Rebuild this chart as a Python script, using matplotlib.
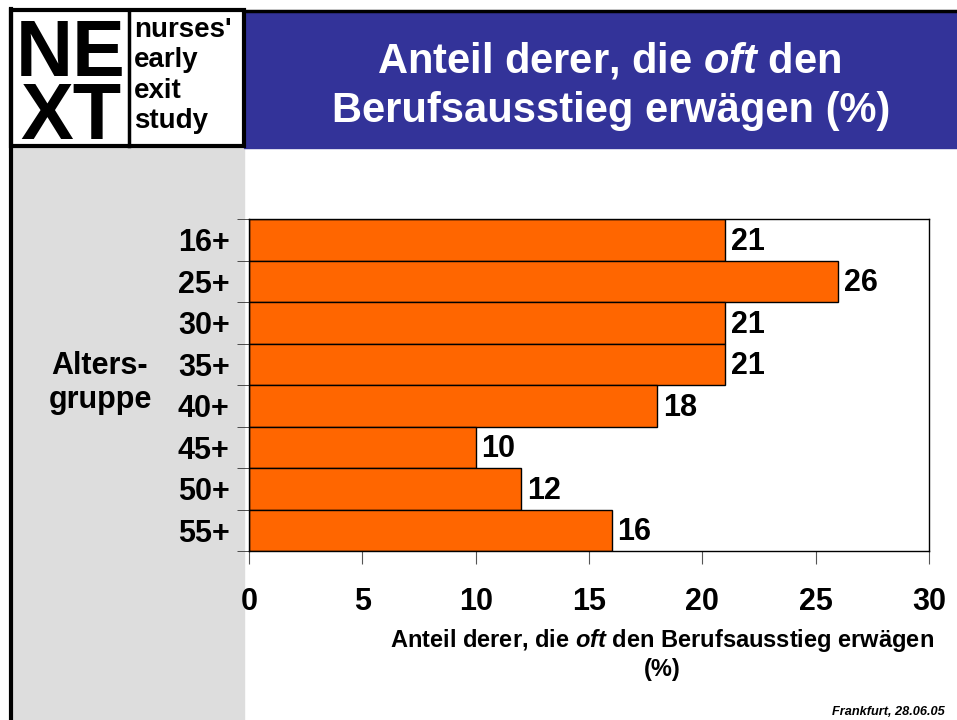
import matplotlib
matplotlib.use('Agg')
import numpy as np
import matplotlib.pyplot as plt
from matplotlib.patches import Rectangle

plt.rcParams['font.family'] = ['Liberation Sans', 'DejaVu Sans']
plt.rcParams['mathtext.fontset'] = 'custom'
plt.rcParams['mathtext.it'] = 'Liberation Sans:italic:bold'
plt.rcParams['mathtext.rm'] = 'Liberation Sans:bold'

# data
groups = ['16+', '25+', '30+', '35+', '40+', '45+', '50+', '55+']
values = [21, 26, 21, 21, 18, 10, 12, 16]
xticks = [0, 5, 10, 15, 20, 25, 30]

W, H = 957, 720
fig = plt.figure(figsize=(W / 100, H / 100), dpi=100)

# background layer in pixel coordinates
bg = fig.add_axes([0, 0, 1, 1])
bg.set_xlim(0, W)
bg.set_ylim(H, 0)
bg.axis('off')

# grey side panel and left border
bg.add_patch(Rectangle((11, 148), 233, 580, color='#dddddd', zorder=1))
bg.plot([11, 11], [9, 720], color='black', lw=3, zorder=3)

# blue header
bg.add_patch(Rectangle((244, 11), 720, 137, color='#333399', zorder=1))
bg.plot([244, 957], [11, 11], color='black', lw=2.5, zorder=3)
bg.text(609, 61, 'Anteil derer, die $\\mathit{oft}$ den', color='white',
        fontsize=30, fontweight='bold', ha='center', va='center', zorder=4)
bg.text(611, 111, 'Berufsausstieg erwägen (%)', color='white',
        fontsize=30, fontweight='bold', ha='center', va='center', zorder=4)

# logo
bg.add_patch(Rectangle((11, 10), 233, 136, facecolor='white', edgecolor='black', lw=3, zorder=2))
bg.plot([129, 129], [10, 146], color='black', lw=2.5, zorder=3)
bg.text(71, 87, 'NE\nXT', fontsize=57, fontweight='bold', ha='center', va='center',
        linespacing=0.8, zorder=4)
for i, w in enumerate(["nurses'", 'early', 'exit', 'study']):
    bg.text(134, 37 + i * 30.3, w, fontsize=20, fontweight='bold', ha='left', va='baseline', zorder=4)

# footer and y label
bg.text(945, 712, 'Frankfurt, 28.06.05', fontsize=9.2, fontweight='bold', style='italic',
        ha='right', va='center', zorder=4)
bg.text(100, 383, 'Alters-\ngruppe', fontsize=22, fontweight='bold', ha='center', va='center',
        linespacing=1.2, zorder=4)

# chart
ax = fig.add_axes([249 / W, 1 - 551 / H, 680 / W, 332 / H])
y = np.arange(len(groups))
ax.barh(y, values, height=1.0, color='#ff6600', edgecolor='black', linewidth=1)
ax.set_xlim(0, 30)
ax.set_ylim(len(groups) - 0.5, -0.5)
for yi, v in zip(y, values):
    ax.text(v + 0.25, yi + 0.05, str(v), fontsize=22, fontweight='bold', ha='left', va='center')

ax.set_yticks(y)
ax.set_yticklabels(groups, fontsize=22, fontweight='bold')
ax.tick_params(axis='y', length=0, pad=14)
ax.set_yticks(np.arange(-0.5, len(groups)), minor=True)
ax.tick_params(axis='y', which='minor', length=9, color='#333333')

ax.set_xticks(xticks)
ax.set_xticklabels([str(t) for t in xticks], fontsize=22, fontweight='bold')
ax.tick_params(axis='x', length=9, pad=17, color='#555555')
ax.set_xlabel('Anteil derer, die $\\mathit{oft}$ den Berufsausstieg erwägen\n(%)',
              fontsize=17, fontweight='bold', linespacing=1.2)
ax.xaxis.set_label_coords(0.608, -0.23)
for s in ax.spines.values():
    s.set_color('black')
    s.set_linewidth(1)

fig.savefig('out.png', dpi=100)
